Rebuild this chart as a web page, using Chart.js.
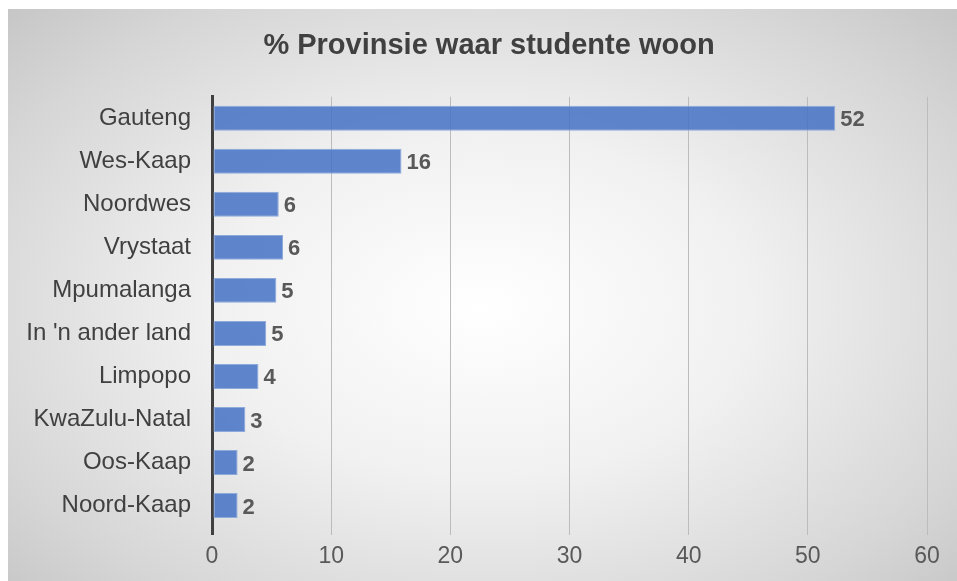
<!DOCTYPE html>
<html>
<head>
<meta charset="utf-8">
<script src="https://cdn.jsdelivr.net/npm/chart.js@4/dist/chart.umd.min.js"></script>
<style>
  html, body { margin: 0; padding: 0; background: #fff; overflow: hidden; }
  #wrap {
    position: absolute; left: 8px; top: 9px; width: 949px; height: 572px; overflow: hidden;
    background: radial-gradient(ellipse 70% 75% at 50% 52%, #ffffff 0%, #f1f1f1 40%, #d6d6d6 80%, #c6c6c6 100%);
  }
</style>
</head>
<body>
<div id="wrap"><canvas id="chart" width="962" height="572"></canvas></div>
<script>
// % of students per province (bar ends)
const provinces = ['Gauteng', 'Wes-Kaap', 'Noordwes', 'Vrystaat', 'Mpumalanga',
  "In 'n ander land", 'Limpopo', 'KwaZulu-Natal', 'Oos-Kaap', 'Noord-Kaap'];
const percentages = [52.3, 15.9, 5.6, 5.96, 5.4, 4.55, 3.9, 2.8, 2.15, 2.15];
const xTicks = [0, 10, 20, 30, 40, 50, 60];

const FONT = "'Liberation Sans', Arial, sans-serif";

// value labels at the bar ends
const valueLabels = {
  id: 'valueLabels',
  afterDatasetsDraw(chart) {
    const { ctx } = chart;
    const meta = chart.getDatasetMeta(0);
    ctx.save();
    ctx.font = `bold 22px ${FONT}`;
    ctx.fillStyle = '#595959';
    ctx.textAlign = 'left';
    ctx.textBaseline = 'middle';
    meta.data.forEach((bar, i) => {
      ctx.fillText(String(Math.round(percentages[i])), bar.x + 5, bar.y + 2);
    });
    ctx.restore();
  },
};

new Chart(document.getElementById('chart'), {
  type: 'bar',
  data: {
    labels: provinces,
    datasets: [{
      data: percentages,
      backgroundColor: 'rgba(68,114,196,0.85)',
      borderColor: '#8eaadb',
      borderWidth: 1,
      borderSkipped: false,
      categoryPercentage: 1,
      barPercentage: 0.58,
    }],
  },
  options: {
    indexAxis: 'y',
    responsive: false,
    animation: false,
    layout: { padding: 0 },
    scales: {
      x: {
        min: 0,
        max: 60,
        afterBuildTicks: (s) => { s.ticks = xTicks.map(v => ({ value: v })); },
        afterFit: (s) => { s.height = 54; },
        border: { display: false },
        grid: {
          color: (c) => (c.index === 0 ? '#404040' : '#bcbcbc'),
          lineWidth: (c) => (c.index === 0 ? 3 : 1),
          tickLength: 8,
          drawTicks: true,
        },
        ticks: {
          color: '#595959',
          padding: 8,
          font: { family: FONT, size: 23 },
        },
      },
      y: {
        afterFit: (s) => { s.width = 204; },
        border: { display: true, color: '#404040', width: 3 },
        grid: { display: false },
        ticks: {
          color: '#404040',
          padding: 13,
          font: { family: FONT, size: 24 },
        },
      },
      // empty right-hand spacer so the title stays centred on the whole box
      yRight: {
        type: 'category',
        position: 'right',
        afterFit: (s) => { s.width = 43; },
        border: { display: false },
        grid: { display: false },
        ticks: { display: false },
      },
    },
    plugins: {
      legend: { display: false },
      tooltip: { enabled: false },
      title: {
        display: true,
        text: '% Provinsie waar studente woon',
        color: '#404040',
        font: { family: FONT, size: 29, weight: 'bold', lineHeight: 1.2 },
        padding: { top: 20, bottom: 33 },
      },
    },
  },
  plugins: [valueLabels],
});
</script>
</body>
</html>
